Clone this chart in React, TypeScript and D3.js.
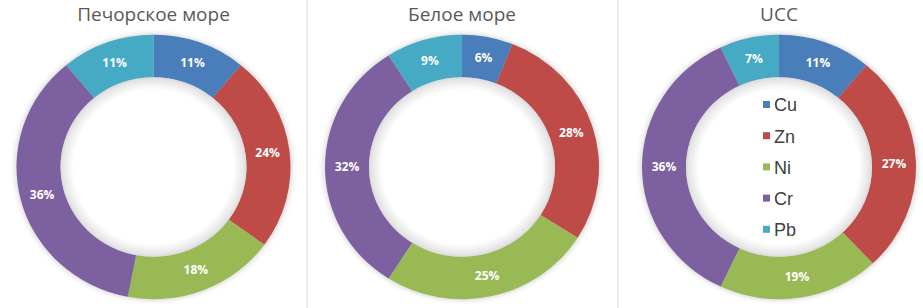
import React from "react";
import * as d3 from "d3";

const elements = ["Cu", "Zn", "Ni", "Cr", "Pb"];
const colors = ["#4a7ebb", "#be4b48", "#98b954", "#7d60a0", "#46aac5"];

const titles = ["Печорское море", "Белое море", "UCC"];
const pechora = [11, 24, 18, 36, 11];
const beloe = [6, 28, 25, 32, 9];
const ucc = [11, 27, 19, 36, 7];
const seriesList = [pechora, beloe, ucc];

const centersX = [153.5, 462, 779];
const dividersX = [307, 618];

const W = 923;
const H = 308;
const cy = 167;
const ro = 137;
const ri = 93;
const sy = 0.965;

const pie = d3.pie<number>().sort(null).value((d) => d);
const arc = d3.arc<d3.PieArcDatum<number>>().innerRadius(ri).outerRadius(ro);
const labelArc = d3
  .arc<d3.PieArcDatum<number>>()
  .innerRadius((ri + ro) / 2)
  .outerRadius((ri + ro) / 2);

const Donut: React.FC<{ values: number[]; cx: number; title: string; idx: number }> = ({
  values,
  cx,
  title,
  idx
}) => {
  const arcs = pie(values);
  return (
    <g>
      <text
        x={cx}
        y={21}
        textAnchor="middle"
        fontFamily="'Open Sans', 'Noto Sans', sans-serif"
        fontSize={19}
        fill="#595959"
      >
        {title}
      </text>
      <g transform={`translate(${cx},${cy}) scale(1,${sy})`}>
        <circle r={ro + 1} fill="#000" opacity={0.18} filter="url(#glow)" />
        {arcs.map((a, i) => (
          <path key={i} d={arc(a) || ""} fill={colors[i]} />
        ))}
        <circle r={ri} fill={`url(#hole)`} />
      </g>
      {arcs.map((a, i) => {
        const [lx, ly] = labelArc.centroid(a);
        return (
          <text
            key={"l" + i}
            x={cx + lx}
            y={cy + ly * sy}
            dy="0.35em"
            textAnchor="middle"
            fontFamily="'Open Sans', 'Noto Sans', sans-serif"
            fontWeight="bold"
            fontSize={12}
            fill="#ffffff"
          >
            {values[i]}%
          </text>
        );
      })}
      {idx === 2 && (
        <g>
          {elements.map((el, i) => (
            <g key={el} transform={`translate(${cx - 16},${105 + i * 31.2})`}>
              <rect x={0} y={-4} width={7} height={7} fill={colors[i]} />
              <text
                x={11}
                y={0}
                dy="0.36em"
                fontFamily="'Liberation Sans', Arial, sans-serif"
                fontSize={18}
                fill="#404040"
              >
                {el}
              </text>
            </g>
          ))}
        </g>
      )}
    </g>
  );
};

export default function App() {
  return (
    <div style={{ position: "fixed", left: 0, top: 0 }}>
      <svg width={W} height={H} style={{ display: "block", background: "#fff" }}>
        <defs>
          <filter id="glow" x="-20%" y="-20%" width="140%" height="140%">
            <feGaussianBlur stdDeviation={3} />
          </filter>
          <radialGradient id="hole">
            <stop offset="0.86" stopColor="#ffffff" />
            <stop offset="0.97" stopColor="#e6e6e6" />
            <stop offset="1" stopColor="#dadada" />
          </radialGradient>
        </defs>
        {dividersX.map((x) => (
          <line key={x} x1={x} x2={x} y1={0} y2={H} stroke="#d9d9d9" strokeWidth={1} />
        ))}
        {seriesList.map((vals, i) => (
          <Donut key={i} values={vals} cx={centersX[i]} title={titles[i]} idx={i} />
        ))}
      </svg>
    </div>
  );
}
